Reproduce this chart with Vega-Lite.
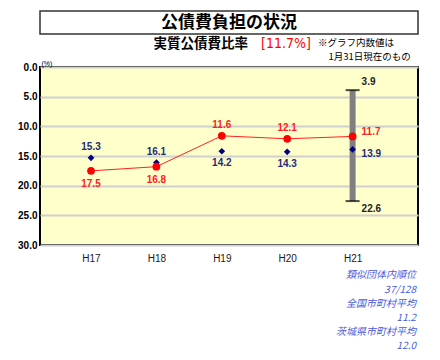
{
  "$schema": "https://vega.github.io/schema/vega-lite/v6.json",
  "autosize": {"type": "none"},
  "width": 378,
  "height": 178,
  "padding": {"left": 40, "top": 67, "right": 22, "bottom": 115},
  "background": "white",
  "config": {
    "view": {"fill": "#ffffcc", "stroke": "#000000", "strokeWidth": 2},
    "font": "Liberation Sans",
    "text": {"font": "Liberation Sans", "fontSize": 10, "fontWeight": "bold"},
    "axisY": {"tickCount": 7, "labelOverlap": false, "format": ".1f", "grid": true, "gridColor": "#d0d0d0", "gridWidth": 2, "ticks": false, "domain": false, "labelPadding": 3, "labelFontSize": 10, "labelFontWeight": "bold", "labelColor": "#000000"},
    "axisX": {"grid": false, "ticks": false, "domain": false, "labelPadding": 8, "labelFontSize": 10, "labelColor": "#1a1a1a"}
  },
  "datasets": {
    "ratio": [
      {"year": 17, "actual": 17.5, "similar": 15.3},
      {"year": 18, "actual": 16.8, "similar": 16.1},
      {"year": 19, "actual": 11.6, "similar": 14.2},
      {"year": 20, "actual": 12.1, "similar": 14.3},
      {"year": 21, "actual": 11.7, "similar": 13.9}
    ],
    "range": [{"year": 21, "lo": 3.9, "hi": 22.6}]
  },
  "layer": [
    {
      "data": {"name": "range"},
      "mark": {"type": "rule", "color": "#808080", "strokeWidth": 6},
      "encoding": {
        "x": {"field": "year", "type": "quantitative", "scale": {"domain": [16.22, 22.0], "nice": false, "zero": false},
          "axis": {"values": [17, 18, 19, 20, 21], "labelExpr": "'H' + datum.value", "title": null}},
        "y": {"field": "lo", "type": "quantitative", "scale": {"domain": [0, 30], "reverse": true, "nice": false, "zero": false},
          "axis": {"values": [0, 5, 10, 15, 20, 25, 30], "title": "(%)", "titleAngle": 0, "titleX": 1, "titleY": -1, "titleAlign": "left", "titleBaseline": "bottom", "titleFontSize": 7, "titleFontWeight": "normal"}},
        "y2": {"field": "hi"}
      }
    },
    {
      "data": {"name": "range"},
      "mark": {"type": "tick", "orient": "horizontal", "color": "#000000", "size": 14, "thickness": 2},
      "encoding": {"x": {"field": "year", "type": "quantitative"}, "y": {"field": "lo", "type": "quantitative"}}
    },
    {
      "data": {"name": "range"},
      "mark": {"type": "tick", "orient": "horizontal", "color": "#000000", "size": 14, "thickness": 2},
      "encoding": {"x": {"field": "year", "type": "quantitative"}, "y": {"field": "hi", "type": "quantitative"}}
    },
    {
      "data": {"name": "ratio"},
      "mark": {"type": "point", "shape": "diamond", "filled": true, "color": "#000080", "size": 45, "opacity": 1},
      "encoding": {"x": {"field": "year", "type": "quantitative"}, "y": {"field": "similar", "type": "quantitative"}}
    },
    {
      "data": {"name": "ratio"},
      "mark": {"type": "line", "color": "#ff2020", "strokeWidth": 1},
      "encoding": {"x": {"field": "year", "type": "quantitative"}, "y": {"field": "actual", "type": "quantitative"}}
    },
    {
      "data": {"name": "ratio"},
      "mark": {"type": "circle", "color": "#ff0000", "size": 60, "opacity": 1},
      "encoding": {"x": {"field": "year", "type": "quantitative"}, "y": {"field": "actual", "type": "quantitative"}}
    },
    {
      "data": {"name": "ratio"},
      "transform": [{"filter": "datum.year <= 18"}],
      "mark": {"type": "text", "color": "#ff2020", "dy": 13},
      "encoding": {"x": {"field": "year", "type": "quantitative"}, "y": {"field": "actual", "type": "quantitative"}, "text": {"field": "actual", "type": "quantitative", "format": ".1f"}}
    },
    {
      "data": {"name": "ratio"},
      "transform": [{"filter": "datum.year == 19 || datum.year == 20"}],
      "mark": {"type": "text", "color": "#ff2020", "dy": -11},
      "encoding": {"x": {"field": "year", "type": "quantitative"}, "y": {"field": "actual", "type": "quantitative"}, "text": {"field": "actual", "type": "quantitative", "format": ".1f"}}
    },
    {
      "data": {"name": "ratio"},
      "transform": [{"filter": "datum.year == 21"}],
      "mark": {"type": "text", "color": "#ff2020", "align": "left", "dx": 9, "dy": -4.5},
      "encoding": {"x": {"field": "year", "type": "quantitative"}, "y": {"field": "actual", "type": "quantitative"}, "text": {"field": "actual", "type": "quantitative", "format": ".1f"}}
    },
    {
      "data": {"name": "ratio"},
      "transform": [{"filter": "datum.year <= 18"}],
      "mark": {"type": "text", "color": "#1f2a78", "dy": -11},
      "encoding": {"x": {"field": "year", "type": "quantitative"}, "y": {"field": "similar", "type": "quantitative"}, "text": {"field": "similar", "type": "quantitative", "format": ".1f"}}
    },
    {
      "data": {"name": "ratio"},
      "transform": [{"filter": "datum.year == 19 || datum.year == 20"}],
      "mark": {"type": "text", "color": "#1f2a78", "dy": 12},
      "encoding": {"x": {"field": "year", "type": "quantitative"}, "y": {"field": "similar", "type": "quantitative"}, "text": {"field": "similar", "type": "quantitative", "format": ".1f"}}
    },
    {
      "data": {"name": "ratio"},
      "transform": [{"filter": "datum.year == 21"}],
      "mark": {"type": "text", "color": "#1f2a78", "align": "left", "dx": 9, "dy": 4.6},
      "encoding": {"x": {"field": "year", "type": "quantitative"}, "y": {"field": "similar", "type": "quantitative"}, "text": {"field": "similar", "type": "quantitative", "format": ".1f"}}
    },
    {
      "data": {"name": "range"},
      "mark": {"type": "text", "color": "#222222", "align": "left", "dx": 9, "dy": -8},
      "encoding": {"x": {"field": "year", "type": "quantitative"}, "y": {"field": "lo", "type": "quantitative"}, "text": {"field": "lo", "type": "quantitative", "format": ".1f"}}
    },
    {
      "data": {"name": "range"},
      "mark": {"type": "text", "color": "#222222", "align": "left", "dx": 9, "dy": 8},
      "encoding": {"x": {"field": "year", "type": "quantitative"}, "y": {"field": "hi", "type": "quantitative"}, "text": {"field": "hi", "type": "quantitative", "format": ".1f"}}
    },
    {
      "data": {"values": [{}]},
      "mark": {"type": "rect", "fill": "#ffffff", "stroke": "#333333", "strokeWidth": 1.5},
      "encoding": {"x": {"datum": 16.22, "type": "quantitative"}, "x2": {"datum": 22.0}, "y": {"datum": -9.44, "type": "quantitative"}, "y2": {"datum": -5.56}}
    },
    {
      "data": {"values": [{}]},
      "mark": {"type": "text", "font": "Noto Sans CJK JP", "fontSize": 17, "fontWeight": "bold", "color": "#000000", "align": "center", "baseline": "middle"},
      "encoding": {"x": {"datum": 19.11, "type": "quantitative"}, "y": {"datum": -7.5, "type": "quantitative"}, "text": {"value": "公債費負担の状況"}}
    },
    {
      "data": {"values": [{}]},
      "mark": {"type": "text", "font": "Noto Sans CJK JP", "fontSize": 13.5, "fontWeight": "bold", "color": "#000000", "align": "right", "baseline": "middle"},
      "encoding": {"x": {"datum": 19.4, "type": "quantitative"}, "y": {"datum": -3.88, "type": "quantitative"}, "text": {"value": "実質公債費比率"}}
    },
    {
      "data": {"values": [{}]},
      "mark": {"type": "text", "font": "Liberation Sans Narrow, DejaVu Sans Condensed, Liberation Sans, sans-serif", "fontSize": 14, "fontWeight": "normal", "color": "#ff0000", "align": "left", "baseline": "middle"},
      "encoding": {"x": {"datum": 19.6, "type": "quantitative"}, "y": {"datum": -3.88, "type": "quantitative"}, "text": {"value": "[11.7%]"}}
    },
    {
      "data": {"values": [{}]},
      "mark": {"type": "text", "font": "Noto Sans CJK JP", "fontSize": 9.5, "fontWeight": "normal", "color": "#000000", "align": "left", "baseline": "middle"},
      "encoding": {"x": {"datum": 20.47, "type": "quantitative"}, "y": {"datum": -4.1, "type": "quantitative"}, "text": {"value": "※グラフ内数値は"}}
    },
    {
      "data": {"values": [{}]},
      "mark": {"type": "text", "font": "Noto Sans CJK JP", "fontSize": 9.5, "fontWeight": "normal", "color": "#000000", "align": "left", "baseline": "middle"},
      "encoding": {"x": {"datum": 20.63, "type": "quantitative"}, "y": {"datum": -1.75, "type": "quantitative"}, "text": {"value": "1月31日現在のもの"}}
    },
    {
      "data": {"values": [{}]},
      "mark": {"type": "text", "font": "Noto Sans CJK JP", "fontSize": 10, "fontWeight": "normal", "fontStyle": "italic", "color": "#4a5ae0", "align": "right", "baseline": "middle"},
      "encoding": {"x": {"datum": 21.97, "type": "quantitative"}, "y": {"datum": 35.08, "type": "quantitative"}, "text": {"value": "類似団体内順位"}}
    },
    {
      "data": {"values": [{}]},
      "mark": {"type": "text", "font": "Noto Sans CJK JP", "fontSize": 10, "fontWeight": "normal", "fontStyle": "italic", "color": "#4a5ae0", "align": "right", "baseline": "middle"},
      "encoding": {"x": {"datum": 21.97, "type": "quantitative"}, "y": {"datum": 37.6, "type": "quantitative"}, "text": {"value": "37/128"}}
    },
    {
      "data": {"values": [{}]},
      "mark": {"type": "text", "font": "Noto Sans CJK JP", "fontSize": 10, "fontWeight": "normal", "fontStyle": "italic", "color": "#4a5ae0", "align": "right", "baseline": "middle"},
      "encoding": {"x": {"datum": 21.97, "type": "quantitative"}, "y": {"datum": 39.9, "type": "quantitative"}, "text": {"value": "全国市町村平均"}}
    },
    {
      "data": {"values": [{}]},
      "mark": {"type": "text", "font": "Noto Sans CJK JP", "fontSize": 10, "fontWeight": "normal", "fontStyle": "italic", "color": "#4a5ae0", "align": "right", "baseline": "middle"},
      "encoding": {"x": {"datum": 21.97, "type": "quantitative"}, "y": {"datum": 42.3, "type": "quantitative"}, "text": {"value": "11.2"}}
    },
    {
      "data": {"values": [{}]},
      "mark": {"type": "text", "font": "Noto Sans CJK JP", "fontSize": 10, "fontWeight": "normal", "fontStyle": "italic", "color": "#4a5ae0", "align": "right", "baseline": "middle"},
      "encoding": {"x": {"datum": 21.97, "type": "quantitative"}, "y": {"datum": 44.6, "type": "quantitative"}, "text": {"value": "茨城県市町村平均"}}
    },
    {
      "data": {"values": [{}]},
      "mark": {"type": "text", "font": "Noto Sans CJK JP", "fontSize": 10, "fontWeight": "normal", "fontStyle": "italic", "color": "#4a5ae0", "align": "right", "baseline": "middle"},
      "encoding": {"x": {"datum": 21.97, "type": "quantitative"}, "y": {"datum": 47.05, "type": "quantitative"}, "text": {"value": "12.0"}}
    }
  ]
}
